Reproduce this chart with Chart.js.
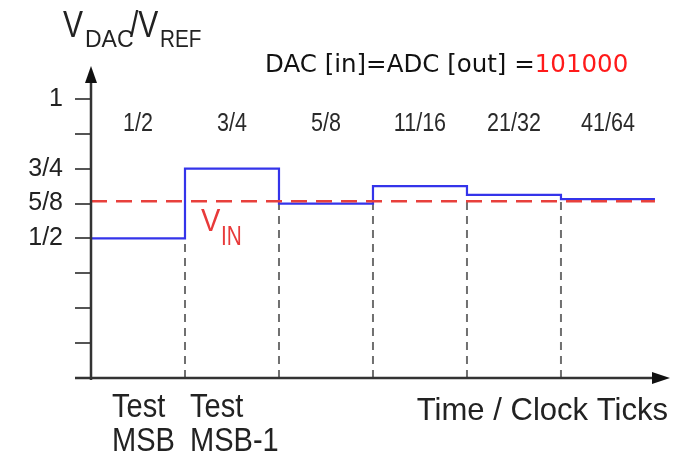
<!DOCTYPE html>
<html>
<head>
<meta charset="utf-8">
<script src="https://cdn.jsdelivr.net/npm/chart.js@4"></script>
<style>
  body { margin: 0; background: #fff; }
  #wrap { width: 682px; height: 462px; position: relative; }
</style>
</head>
<body>
<div id="wrap"><canvas id="sar"></canvas></div>
<script>
// SAR conversion steps: DAC output per clock tick
const clockTicks = [0, 1, 2, 3, 4, 5, 6];
const dacLabels = ['1/2', '3/4', '5/8', '11/16', '21/32', '41/64'];
const dacValues = [1 / 2, 3 / 4, 5 / 8, 11 / 16, 21 / 32, 41 / 64];
const vin = 0.633;
const yTickValues = [1 / 8, 2 / 8, 3 / 8, 4 / 8, 5 / 8, 6 / 8, 7 / 8, 1];
const yTickLabels = ['', '', '', '1/2', '5/8', '3/4', '', '1'];
const bottomLabels = [['Test', 'MSB'], ['Test', 'MSB-1']];
const resultCode = '101000';

const SANS = "Arial, 'Liberation Sans', sans-serif";

// step line: hold each DAC value until the next clock tick
const dacPoints = clockTicks.map((t, i) => ({ x: t, y: dacValues[Math.min(i, dacValues.length - 1)] }));

// gray dashed markers at every clock tick boundary
const tickMarkers = clockTicks.slice(1, -1).map(t => ({
    data: [{ x: t, y: 0 }, { x: t, y: Math.min(dacValues[t - 1], dacValues[t]) }],
    borderColor: '#707070',
    borderWidth: 2,
    borderDash: [8, 6],
    pointRadius: 0
}));

// text with horizontal / vertical stretch (the source font is condensed)
function drawText(ctx, str, x, y, size, sx, sy, align) {
    ctx.save();
    ctx.translate(x, y);
    ctx.scale(sx || 1, sy || 1);
    ctx.font = size + 'px ' + SANS;
    ctx.textAlign = align || 'left';
    ctx.fillText(str, 0, 0);
    ctx.restore();
}

// axes with arrows + annotations
const annotations = {
    id: 'annotations',
    afterDraw(chart) {
        const ctx = chart.ctx;
        const xs = chart.scales.x, ys = chart.scales.y;
        const area = chart.chartArea;
        const ox = xs.getPixelForValue(0), oy = ys.getPixelForValue(0);
        ctx.save();

        // axes
        ctx.strokeStyle = '#333';
        ctx.fillStyle = '#111';
        ctx.lineWidth = 2.5;
        ctx.beginPath();
        ctx.moveTo(ox, oy + 2);
        ctx.lineTo(ox, area.top + 14);
        ctx.moveTo(ox - 16, oy);
        ctx.lineTo(area.right - 14, oy);
        ctx.stroke();
        ctx.beginPath();
        ctx.moveTo(ox, area.top);
        ctx.lineTo(ox - 6, area.top + 17);
        ctx.lineTo(ox + 6, area.top + 17);
        ctx.closePath();
        ctx.fill();
        ctx.beginPath();
        ctx.moveTo(area.right, oy);
        ctx.lineTo(area.right - 18, oy - 6);
        ctx.lineTo(area.right - 18, oy + 6);
        ctx.closePath();
        ctx.fill();

        // y-axis title V_DAC/V_REF
        ctx.fillStyle = '#222';
        drawText(ctx, 'V', 63, 37, 30, 1, 1.25);
        drawText(ctx, 'DAC', 85, 47, 23, 1, 1);
        drawText(ctx, '/V', 130, 37, 30, 1, 1.25);
        drawText(ctx, 'REF', 160, 47, 23, 0.9, 1);

        // result line
        ctx.font = "24.5px 'DejaVu Sans', Verdana, sans-serif";
        ctx.textAlign = 'left';
        const pre = 'DAC [in]=ADC [out] =';
        ctx.fillStyle = '#111';
        ctx.fillText(pre, 265, 72);
        ctx.fillStyle = '#ff1a1a';
        ctx.fillText(resultCode, 265 + ctx.measureText(pre).width, 72);

        // DAC fraction per step
        ctx.fillStyle = '#2a2a2a';
        dacLabels.forEach((l, i) => {
            drawText(ctx, l, xs.getPixelForValue(clockTicks[i] + 0.5), 131, 25, 0.86, 1, 'center');
        });

        // V_IN label
        ctx.fillStyle = '#e83a3a';
        drawText(ctx, 'V', 201, 231, 29, 1, 1.05);
        drawText(ctx, 'IN', 221, 245, 26, 0.8, 1.05);

        // bottom labels
        ctx.fillStyle = '#222';
        [112, 190].forEach((lx, i) => {
            drawText(ctx, bottomLabels[i][0], lx, 417, 33, 0.88, 1);
            drawText(ctx, bottomLabels[i][1], lx, 451, 33, 0.88, 1);
        });
        drawText(ctx, 'Time / Clock Ticks', 668, 420, 32, 0.97, 1, 'right');
        ctx.restore();
    }
};

new Chart(document.getElementById('sar'), {
    type: 'line',
    data: {
        datasets: [
            {
                data: [{ x: 0, y: vin }, { x: clockTicks[clockTicks.length - 1], y: vin }],
                borderColor: '#e8403c',
                borderWidth: 2.5,
                borderDash: [16, 9],
                pointRadius: 0
            },
            {
                data: dacPoints,
                stepped: 'before',
                borderColor: '#3434ea',
                borderWidth: 2.2,
                pointRadius: 0
            },
            ...tickMarkers
        ]
    },
    options: {
        responsive: true,
        maintainAspectRatio: false,
        animation: false,
        layout: { padding: { top: 66, bottom: 84, right: 12, left: 0 } },
        plugins: { legend: { display: false }, tooltip: { enabled: false } },
        scales: {
            x: { type: 'linear', min: 0, max: 6.16, display: false },
            y: {
                min: 0,
                max: 1.118,
                afterBuildTicks: scale => { scale.ticks = yTickValues.map(v => ({ value: v })); },
                afterFit: scale => { scale.width = 91; },
                border: { display: false },
                grid: { drawOnChartArea: false, tickLength: 16, color: '#555', lineWidth: 2 },
                ticks: {
                    padding: 12,
                    autoSkip: false,
                    color: '#222',
                    font: { family: SANS, size: 25 },
                    callback: (v, i) => yTickLabels[i]
                }
            }
        }
    },
    plugins: [annotations]
});
</script>
</body>
</html>
